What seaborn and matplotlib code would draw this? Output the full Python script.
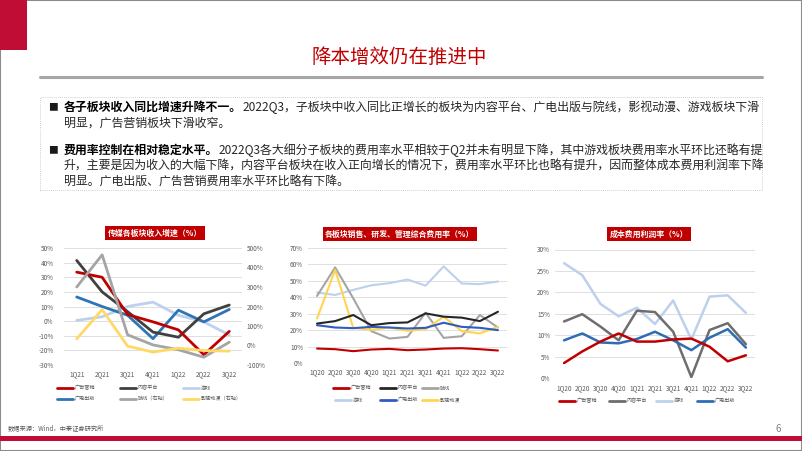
import matplotlib
matplotlib.use('Agg')
import matplotlib.pyplot as plt
import seaborn as sns
import pandas as pd
from matplotlib.lines import Line2D
from matplotlib.patches import Rectangle

sns.set_theme(style='white')
plt.rcParams['font.family'] = ['Noto Sans CJK SC', 'DejaVu Sans']
plt.rcParams['axes.unicode_minus'] = False

W, H = 802, 451

# ---------------- data ----------------
q_a = ['1Q21', '2Q21', '3Q21', '4Q21', '1Q22', '2Q22', '3Q22']
growth_ad = [33.5, 30, 4.5, -0.5, -6, -23, -7]
growth_content = [41.5, 20, 6.5, -7.5, -11, 5, 11]
growth_game = [0.5, 3, 10, 13, 4, -0.5, -9.5]
growth_broadcast = [16.5, 10, 4, -12, 7.5, -0.5, 8]
growth_cinema_r = [300, 465, 55, 3, -22, -60, 17]
growth_film_r = [34, 184, -3, -34, -14, -26, -29]

q_b = ['1Q20', '2Q20', '3Q20', '4Q20', '1Q21', '2Q21', '3Q21', '4Q21', '1Q22', '2Q22', '3Q22']
exp_ad = [8.8, 8.4, 7.2, 8.2, 8.6, 7.8, 8.2, 8.8, 9.0, 8.4, 7.6]
exp_content = [24, 25.5, 29.2, 23, 24.3, 24.7, 30.2, 28.2, 27.6, 25.5, 31.2]
exp_cinema = [40.8, 58.2, 39.4, 19.4, 14.9, 15.9, 30.6, 15.3, 16.3, 29.2, 21.6]
exp_game = [42.9, 41.4, 44.5, 47.3, 48.6, 50.8, 47.1, 58.8, 48.4, 48.0, 49.6]
exp_broadcast = [23, 21.6, 21.2, 22, 21.6, 21, 21.4, 24.5, 22, 21.4, 20]
exp_film = [27.1, 56.7, 21.4, 20.2, 21.6, 19.6, 20.6, 28.2, 19.4, 18, 22]

margin_ad = [3.5, 6.2, 8.5, 10.4, 8.5, 8.5, 9.0, 9.2, 7.3, 3.9, 5.3]
margin_content = [13.2, 14.9, 12, 8.8, 15.7, 15.4, 10.8, 0.2, 11.2, 12.8, 7.9]
margin_game = [26.8, 24, 17.3, 14.4, 16.4, 12.6, 18.1, 9, 19, 19.3, 15.2]
margin_broadcast = [8.8, 10.4, 8.3, 8.1, 9.1, 10.8, 8.8, 6.5, 9.4, 11.4, 7.1]

RED = '#C00000'
fig = plt.figure(figsize=(W / 100, H / 100), dpi=100)
fig.patch.set_facecolor('white')


def px_axes(l, t, r, b):
    return fig.add_axes([l / W, 1 - b / H, (r - l) / W, (b - t) / H])


def style(ax, ylim, ticks, xpad, ypad, grid=True):
    ax.set_ylim(*ylim)
    ax.set_yticks(ticks)
    ax.set_yticklabels([f'{t}%' for t in ticks])
    ax.set_xlabel('')
    ax.set_ylabel('')
    for s in ax.spines.values():
        s.set_visible(False)
    ax.tick_params(axis='both', length=0, labelsize=4.6, colors='#595959')
    ax.tick_params(axis='x', pad=xpad)
    ax.tick_params(axis='y', pad=ypad)
    if grid:
        ax.grid(axis='y', color='#D9D9D9', lw=0.6)
        ax.grid(axis='x', visible=False)
    else:
        ax.grid(False)
    ax.set_axisbelow(True)
    ax.set_facecolor('none')


def long_df(q, series):
    rows = []
    for name, vals in series.items():
        for qq, v in zip(q, vals):
            rows.append({'季度': qq, '值': v, '板块': name})
    return pd.DataFrame(rows)


def leg(x, y, label, color, lw=2.0):
    h = Line2D([], [], color=color, lw=lw)
    fs = 3.7
    fig.legend([h], [label], loc='center left', bbox_to_anchor=(x / W, 1 - y / H),
               frameon=False, fontsize=fs, handlelength=16 / (fs * 100 / 72),
               handletextpad=0.35, borderpad=0, borderaxespad=0,
               labelcolor='#595959')


def title_box(x, y, text):
    fig.text(x / W, 1 - y / H, text, ha='center', va='center', color='white',
             fontsize=5.7, fontweight='bold',
             bbox=dict(facecolor='#C00000', edgecolor='none', boxstyle='square,pad=0.35'))


# ---------------- slide decoration ----------------
fig.add_artist(Rectangle((0, 0), 1, 1, transform=fig.transFigure, fill=False,
                         ec='#8C8C8C', lw=1.5))
fig.add_artist(Rectangle((0, 1 - 50 / H), 27 / W, 50 / H, transform=fig.transFigure,
                         fc='#C00D35', ec='none'))
fig.add_artist(Rectangle((0, 1 - 441 / H), 1, 5 / H, transform=fig.transFigure,
                         fc='#C00D35', ec='none'))
fig.add_artist(Line2D([40 / W, 762 / W], [1 - 77 / H, 1 - 77 / H], transform=fig.transFigure,
                      color='#A6A6A6', lw=2.2))
fig.add_artist(Rectangle((40 / W, 1 - 190 / H), 722 / W, 93 / H, transform=fig.transFigure,
                         fill=False, ec='#BFBFBF', lw=0.6, ls=(0, (1, 1.5))))

fig.text(399 / W, 1 - 57 / H, '降本增效仍在推进中', ha='center', va='center',
         color=RED, fontsize=14)

renderer = fig.canvas.get_renderer()
FS = 8.6


def text_line(y, bold, rest, bullet=False):
    x = 64
    if bullet:
        fig.text(48 / W, 1 - y / H, '■', ha='left', va='center', fontsize=7, color='#1A1A1A')
    if bold:
        t = fig.text(x / W, 1 - y / H, bold, ha='left', va='center', fontsize=FS,
                     fontweight='bold', color='#000000')
        bb = t.get_window_extent(renderer)
        x = bb.x1
    fig.text(x / W, 1 - y / H, rest, ha='left', va='center', fontsize=FS, color='#262626')


text_line(107, '各子板块收入同比增速升降不一。',
          '2022Q3，子板块中收入同比正增长的板块为内容平台、广电出版与院线，影视动漫、游戏板块下滑', True)
text_line(123, '', '明显，广告营销板块下滑收窄。')
text_line(150, '费用率控制在相对稳定水平。',
          '2022Q3各大细分子板块的费用率水平相较于Q2并未有明显下降，其中游戏板块费用率水平环比还略有提', True)
text_line(166, '', '升，主要是因为收入的大幅下降，内容平台板块在收入正向增长的情况下，费用率水平环比也略有提升，因而整体成本费用利润率下降')
text_line(182, '', '明显。广电出版、广告营销费用率水平环比略有下降。')

fig.text(8 / W, 1 - 428 / H, '数据来源：Wind，中泰证券研究所', ha='left', va='center',
         fontsize=4.5, color='#595959')
fig.text(778 / W, 1 - 429 / H, '6', ha='center', va='center', fontsize=7, color='#7F7F7F')

# ---------------- chart 1 ----------------
C_AD, C_CONTENT, C_GAME, C_BC = '#C00000', '#404040', '#BDD0EC', '#2E75B6'
C_CINEMA, C_FILM = '#A5A5A5', '#FFD966'

ax1 = px_axes(64, 248, 242, 365)
df1 = long_df(q_a, {'游戏': growth_game, '广电出版': growth_broadcast,
                    '内容平台': growth_content, '广告营销': growth_ad})
pal1 = {'广告营销': C_AD, '内容平台': C_CONTENT, '游戏': C_GAME, '广电出版': C_BC}
sns.lineplot(data=df1, x='季度', y='值', hue='板块', palette=pal1, linewidth=2.0,
             ax=ax1, legend=False, sort=False)
style(ax1, (-30, 50), list(range(-30, 51, 10)), 3.5, 7.5)
ax1b = ax1.twinx()
df1b = long_df(q_a, {'院线（右轴）': growth_cinema_r, '影视动漫（右轴）': growth_film_r})
sns.lineplot(data=df1b, x='季度', y='值', hue='板块',
             palette={'院线（右轴）': C_CINEMA, '影视动漫（右轴）': C_FILM},
             linewidth=2.0, ax=ax1b, legend=False, sort=False)
style(ax1b, (-100, 500), list(range(-100, 501, 100)), 3.5, 3.5, grid=False)
ax1.set_xlim(-0.5, len(q_a) - 0.5)
ax1b.set_xlim(-0.5, len(q_a) - 0.5)
title_box(155, 233, '传媒各板块收入增速（%）')
leg(57, 388, '广告营销', C_AD)
leg(120, 388, '内容平台', C_CONTENT)
leg(183, 388, '游戏', C_GAME)
leg(57, 399, '广电出版', C_BC)
leg(120, 399, '院线（右轴）', C_CINEMA)
leg(183, 399, '影视动漫（右轴）', C_FILM)

# ---------------- chart 2 ----------------
C2_CONTENT, C2_BC, C2_FILM = '#262626', '#2F5BC4', '#FFD54F'
ax2 = px_axes(308, 248, 507, 363)
df2 = long_df(q_b, {'游戏': exp_game, '院线': exp_cinema, '影视动漫': exp_film,
                    '广电出版': exp_broadcast, '内容平台': exp_content, '广告营销': exp_ad})
pal2 = {'广告营销': C_AD, '内容平台': C2_CONTENT, '院线': C_CINEMA, '游戏': C_GAME,
        '广电出版': C2_BC, '影视动漫': C2_FILM}
sns.lineplot(data=df2, x='季度', y='值', hue='板块', palette=pal2, linewidth=1.5,
             ax=ax2, legend=False, sort=False)
style(ax2, (0, 70), list(range(0, 71, 10)), 3.5, 3.5)
ax2.set_xlim(-0.5, len(q_b) - 0.5)
title_box(400, 234, '各板块销售、研发、管理综合费用率（%）')
leg(333, 388, '广告营销', C_AD)
leg(380, 388, '内容平台', C2_CONTENT)
leg(422, 388, '院线', C_CINEMA)
leg(335, 400, '游戏', C_GAME)
leg(380, 400, '广电出版', C2_BC)
leg(422, 400, '影视动漫', C2_FILM)

# ---------------- chart 3 ----------------
C3_CONTENT, C3_BC = '#6E6E6E', '#2E6DB4'
ax3 = px_axes(555, 249.5, 755, 378)
df3 = long_df(q_b, {'游戏': margin_game, '内容平台': margin_content,
                    '广电出版': margin_broadcast, '广告营销': margin_ad})
pal3 = {'广告营销': C_AD, '内容平台': C3_CONTENT, '游戏': C_GAME, '广电出版': C3_BC}
sns.lineplot(data=df3, x='季度', y='值', hue='板块', palette=pal3, linewidth=1.8,
             ax=ax3, legend=False, sort=False)
style(ax3, (0, 30), list(range(0, 31, 5)), 4.5, 3.5)
ax3.set_xlim(-0.5, len(q_b) - 0.5)
title_box(649, 234, '成本费用利润率（%）')
leg(559, 401, '广告营销', C_AD)
leg(609, 401, '内容平台', C3_CONTENT)
leg(656, 401, '游戏', C_GAME)
leg(697, 401, '广电出版', C3_BC)

fig.savefig('out.png', dpi=100)
